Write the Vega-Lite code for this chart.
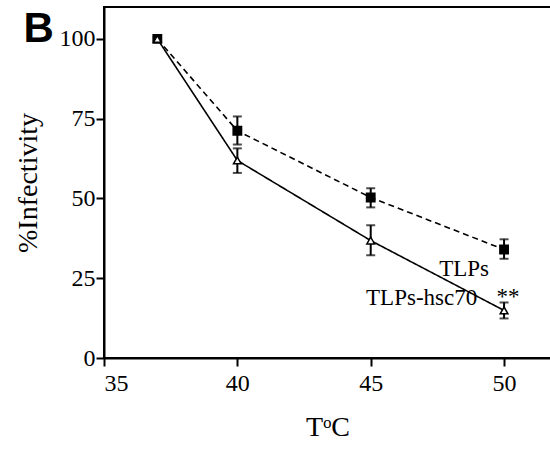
{
  "$schema": "https://vega.github.io/schema/vega-lite/v6.json",
  "width": 447,
  "height": 351,
  "autosize": {"type": "none"},
  "padding": {"left": 104, "top": 7, "right": 0, "bottom": 91},
  "background": "white",
  "config": {
    "view": {"stroke": "black", "strokeWidth": 2},
    "axis": {"domainColor": "black", "domainWidth": 2, "tickColor": "black", "tickWidth": 2, "tickSize": 8, "grid": false, "labelFont": "Liberation Serif, Times New Roman, serif", "labelFontSize": 24, "labelColor": "black", "titleFont": "Liberation Serif, Times New Roman, serif", "titleFontSize": 28, "titleFontWeight": "normal", "titleColor": "black"}
  },
  "datasets": {
    "pts": [
      {"series": "TLPs", "temp": 37, "pct": 100, "lo": 99.5, "hi": 100.5},
      {"series": "TLPs", "temp": 40, "pct": 71.2, "lo": 66.9, "hi": 75.7},
      {"series": "TLPs", "temp": 45, "pct": 50.3, "lo": 47.2, "hi": 53.2},
      {"series": "TLPs", "temp": 50, "pct": 34.0, "lo": 31.1, "hi": 37.2},
      {"series": "TLPs-hsc70", "temp": 37, "pct": 100, "lo": 99.5, "hi": 100.5},
      {"series": "TLPs-hsc70", "temp": 40, "pct": 61.9, "lo": 58.0, "hi": 65.7},
      {"series": "TLPs-hsc70", "temp": 45, "pct": 36.8, "lo": 32.2, "hi": 41.6},
      {"series": "TLPs-hsc70", "temp": 50, "pct": 14.9, "lo": 12.4, "hi": 17.4}
    ],
    "labels": [
      {"temp": 48.5, "pct": 25.6, "label": "TLPs"},
      {"temp": 46.91, "pct": 16.6, "label": "TLPs-hsc70"},
      {"temp": 50.15, "pct": 16.9, "label": "**"}
    ],
    "panel": [
      {"temp": 32.55, "pct": 99.0, "label": "B"}
    ]
  },
  "encoding": {
    "x": {"field": "temp", "type": "quantitative", "scale": {"domain": [35, 51.76], "nice": false, "zero": false}, "axis": {"values": [35, 40, 45, 50], "title": "TᵒC", "labelPadding": 5, "titlePadding": 18}},
    "y": {"field": "pct", "type": "quantitative", "scale": {"domain": [0, 110], "nice": false}, "axis": {"values": [0, 25, 50, 75, 100], "title": "%Infectivity", "labelPadding": 1, "titlePadding": 17}}
  },
  "layer": [
    {"data": {"name": "pts"}, "mark": {"type": "line", "color": "black", "strokeWidth": 1.6}, "encoding": {"detail": {"field": "series"}, "strokeDash": {"field": "series", "type": "nominal", "scale": {"domain": ["TLPs", "TLPs-hsc70"], "range": [[6, 4], [1, 0]]}, "legend": null}}},
    {"data": {"name": "pts"}, "mark": {"type": "rule", "color": "black", "strokeWidth": 2}, "encoding": {"y": {"field": "lo", "type": "quantitative"}, "y2": {"field": "hi"}}},
    {"data": {"name": "pts"}, "mark": {"type": "tick", "orient": "horizontal", "color": "black", "size": 9, "thickness": 2}, "encoding": {"y": {"field": "lo", "type": "quantitative"}}},
    {"data": {"name": "pts"}, "mark": {"type": "tick", "orient": "horizontal", "color": "black", "size": 9, "thickness": 2}, "encoding": {"y": {"field": "hi", "type": "quantitative"}}},
    {"data": {"name": "pts"}, "mark": {"type": "point", "opacity": 1, "strokeWidth": 1.5, "stroke": "black"}, "encoding": {
      "shape": {"field": "series", "type": "nominal", "scale": {"domain": ["TLPs", "TLPs-hsc70"], "range": ["square", "triangle-up"]}, "legend": null},
      "fill": {"field": "series", "type": "nominal", "scale": {"domain": ["TLPs", "TLPs-hsc70"], "range": ["black", "white"]}, "legend": null},
      "size": {"field": "series", "type": "nominal", "scale": {"domain": ["TLPs", "TLPs-hsc70"], "range": [70, 60]}, "legend": null}
    }},
    {"data": {"name": "labels"}, "mark": {"type": "text", "font": "Liberation Serif, Times New Roman, serif", "fontSize": 23, "color": "black", "align": "center", "baseline": "alphabetic"}, "encoding": {"text": {"field": "label"}}},
    {"data": {"name": "panel"}, "mark": {"type": "text", "font": "Liberation Sans, Arial, sans-serif", "fontSize": 42, "fontWeight": "bold", "color": "black", "align": "center", "baseline": "alphabetic", "clip": false}, "encoding": {"text": {"field": "label"}}}
  ]
}
